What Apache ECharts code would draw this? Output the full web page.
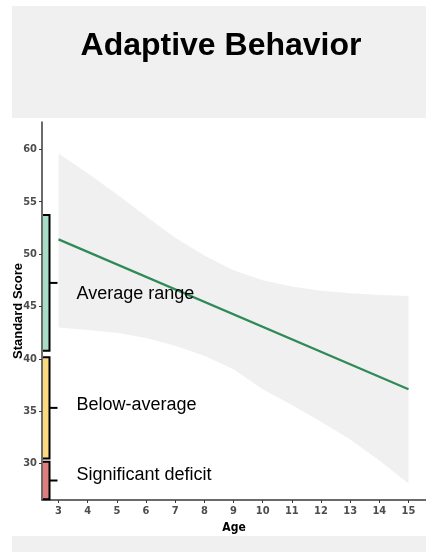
<!DOCTYPE html>
<html>
<head>
<meta charset="utf-8">
<script src="https://cdn.jsdelivr.net/npm/echarts@6/dist/echarts.min.js"></script>
<style>
  html, body { margin: 0; padding: 0; background: #fff; }
  #chart { width: 426px; height: 552px; }
</style>
</head>
<body>
<div id="chart"></div>
<script>
// ages for the confidence band and fitted line
var ages = [3, 4, 5, 6, 7, 8, 9, 10, 11, 12, 13, 14, 15];
var ciUpper = [59.6, 57.7, 55.7, 53.6, 51.55, 49.85, 48.45, 47.5, 46.9, 46.5, 46.25, 46.1, 46.0];
var ciLower = [43.0, 42.75, 42.5, 42.0, 41.25, 40.3, 39.0, 37.1, 35.6, 34.0, 32.3, 30.3, 28.1];
var fitAges = [3, 15];
var fitScores = [51.4, 37.1];

// score ranges drawn as brackets on the left
var rangeNames = ['Average range', 'Below-average', 'Significant deficit'];
var rangeLow = [40.77, 30.5, 26.6];
var rangeHigh = [53.72, 40.14, 30.18];
var rangeLabelY = [46.2, 35.6, 28.9];
var rangeColors = ['#a9dcc6', '#fbd97e', '#de7e7e'];

var yTicks = [30, 35, 40, 45, 50, 55, 60];
var xTicks = [3, 4, 5, 6, 7, 8, 9, 10, 11, 12, 13, 14, 15];

var X_MIN = 2.434, X_MAX = 15.6;
var Y_MIN = 26.53, Y_MAX = 62.6;

var narrow = '"Liberation Sans Narrow", "Arial Narrow", "DejaVu Sans Condensed", sans-serif';
var arial = '"Liberation Sans", Arial, sans-serif';

var chart = echarts.init(document.getElementById('chart'));

var fitData = fitAges.map(function (a, i) { return [a, fitScores[i]]; });
var rangeData = rangeNames.map(function (n, i) { return [rangeLow[i], rangeHigh[i], rangeLabelY[i], i]; });

var option = {
  animation: false,
  graphic: [
    { type: 'rect', z: -10, shape: { x: 12, y: 6, width: 414, height: 112 }, style: { fill: '#f0f0f0' } },
    { type: 'rect', z: -10, shape: { x: 12, y: 536, width: 414, height: 16 }, style: { fill: '#f0f0f0' } },
    {
      type: 'text', x: 221, y: 46,
      style: {
        text: 'Adaptive Behavior', fill: '#000',
        font: 'bold 32px ' + arial, textAlign: 'center', textVerticalAlign: 'middle'
      }
    },
    {
      // y axis title
      type: 'text', x: 18, y: 311, rotation: Math.PI / 2,
      style: {
        text: 'Standard Score', fill: '#000',
        font: 'bold 13px ' + arial, textAlign: 'center', textVerticalAlign: 'middle'
      }
    }
  ],
  grid: { left: 42, right: 0, top: 122, bottom: 52, outerBoundsMode: 'none', containLabel: false },
  xAxis: {
    type: 'value', min: X_MIN, max: X_MAX,
    name: 'Age', nameLocation: 'middle', nameGap: 20,
    nameTextStyle: { fontFamily: narrow, fontWeight: 'bold', fontSize: 12, color: '#000' },
    splitLine: { show: false },
    axisLine: { show: true, lineStyle: { color: '#3a3a3a', width: 1.5 } },
    axisTick: { show: true, length: 3, customValues: xTicks, lineStyle: { color: '#3a3a3a' } },
    axisLabel: {
      customValues: xTicks, margin: 6,
      fontFamily: narrow, fontWeight: 'bold', fontSize: 11, color: '#4d4d4d'
    }
  },
  yAxis: {
    type: 'value', min: Y_MIN, max: Y_MAX,
    splitLine: { show: false },
    axisLine: { show: true, lineStyle: { color: '#3a3a3a', width: 1.5 } },
    axisTick: { show: true, length: 3, customValues: yTicks, lineStyle: { color: '#3a3a3a' } },
    axisLabel: {
      customValues: yTicks, margin: 5,
      fontFamily: narrow, fontWeight: 'bold', fontSize: 11, color: '#4d4d4d'
    }
  },
  series: [
    {
      // confidence band: one polygon through upper edge then lower edge
      type: 'custom', data: [0], z: 1,
      renderItem: function (params, api) {
        var pts = [];
        for (var i = 0; i < ages.length; i++) pts.push(api.coord([ages[i], ciUpper[i]]));
        for (var j = ages.length - 1; j >= 0; j--) pts.push(api.coord([ages[j], ciLower[j]]));
        return { type: 'polygon', shape: { points: pts }, style: { fill: '#f0f0f0' } };
      }
    },
    {
      type: 'line', data: fitData, symbol: 'none',
      lineStyle: { color: '#2f8a57', width: 2.2 }, z: 2
    },
    {
      type: 'custom', data: rangeData, clip: false, z: 3,
      renderItem: function (params, api) {
        var lo = api.value(0), hi = api.value(1), ly = api.value(2), idx = api.value(3);
        var ax = api.coord([X_MIN, lo])[0];
        var yTop = api.coord([X_MIN, hi])[1];
        var yBot = api.coord([X_MIN, lo])[1];
        var yMid = (yTop + yBot) / 2;
        var yLab = api.coord([X_MIN, ly])[1];
        return {
          type: 'group',
          children: [
            { type: 'rect', shape: { x: ax + 1, y: yTop, width: 6.5, height: yBot - yTop },
              style: { fill: rangeColors[idx] } },
            { type: 'polyline',
              shape: { points: [[ax + 1, yTop], [ax + 7.5, yTop], [ax + 7.5, yBot], [ax + 1, yBot]] },
              style: { stroke: '#000', lineWidth: 2, fill: null } },
            { type: 'line', shape: { x1: ax + 7.5, y1: yMid, x2: ax + 15.5, y2: yMid },
              style: { stroke: '#000', lineWidth: 2 } },
            { type: 'text', x: ax + 34.5, y: yLab,
              style: { text: rangeNames[idx], fill: '#000', font: '18px ' + arial,
                textAlign: 'left', textVerticalAlign: 'middle' } }
          ]
        };
      }
    }
  ]
};

chart.setOption(option);

window.onresize = function () {
  chart.resize();
};
</script>
</body>
</html>
